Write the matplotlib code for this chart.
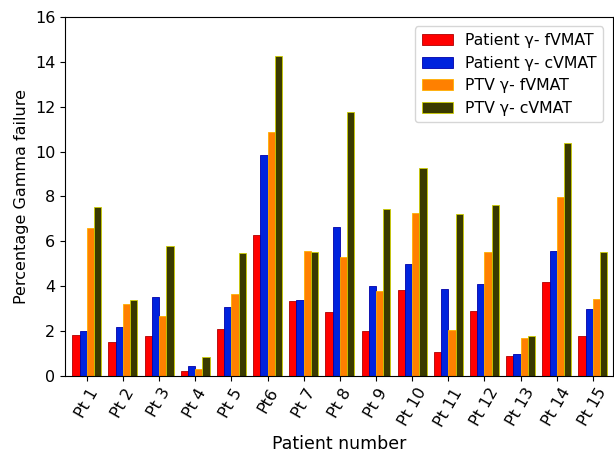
import matplotlib
matplotlib.use("Agg")
import matplotlib.pyplot as plt
import numpy as np

patients = ["Pt 1", "Pt 2", "Pt 3", "Pt 4", "Pt 5", "Pt6", "Pt 7", "Pt 8",
            "Pt 9", "Pt 10", "Pt 11", "Pt 12", "Pt 13", "Pt 14", "Pt 15"]
patient_fvmat = [1.82, 1.52, 1.77, 0.22, 2.07, 6.27, 3.35, 2.87, 2.0, 3.83, 1.08, 2.9, 0.87, 4.2, 1.8]
patient_cvmat = [2.0, 2.17, 3.53, 0.46, 3.07, 9.86, 3.39, 6.65, 3.99, 4.97, 3.89, 4.09, 0.96, 5.59, 2.98]
ptv_fvmat = [6.6, 3.2, 2.66, 0.31, 3.66, 10.88, 5.57, 5.3, 3.77, 7.28, 2.06, 5.51, 1.67, 7.97, 3.42]
ptv_cvmat = [7.55, 3.4, 5.8, 0.83, 5.49, 14.25, 5.53, 11.77, 7.43, 9.25, 7.23, 7.6, 1.8, 10.38, 5.53]

series = [
    ("Patient γ- fVMAT", patient_fvmat, "#ff0000", "#b00000"),
    ("Patient γ- cVMAT", patient_cvmat, "#0022dd", "#0000aa"),
    ("PTV γ- fVMAT", ptv_fvmat, "#ff8000", "#ffb000"),
    ("PTV γ- cVMAT", ptv_cvmat, "#3a3a00", "#cccc00"),
]

fig = plt.figure(figsize=(6.14, 4.59), dpi=100)
ax = fig.add_axes([0.106, 0.181, 0.892, 0.782])

x = np.arange(len(patients))
w = 0.2
for i, (lab, vals, fc, ec) in enumerate(series):
    ax.bar(x + (i - 1.5) * w, vals, w, label=lab, color=fc, edgecolor=ec, linewidth=0.6)

ax.set_xlim(-0.6, 14.55)
ax.set_ylim(0, 16)
ax.set_yticks(np.arange(0, 17, 2))
ax.set_xticks(x)
ax.set_xticklabels(patients, rotation=60, ha="center", fontsize=11.5)
ax.tick_params(axis="y", labelsize=11.5)
ax.set_xlabel("Patient number", fontsize=12.5)
ax.set_ylabel("Percentage Gamma failure", fontsize=11.5)
ax.legend(loc="upper right", fontsize=11.3, borderaxespad=0.6)

fig.savefig("out.png", dpi=100)
